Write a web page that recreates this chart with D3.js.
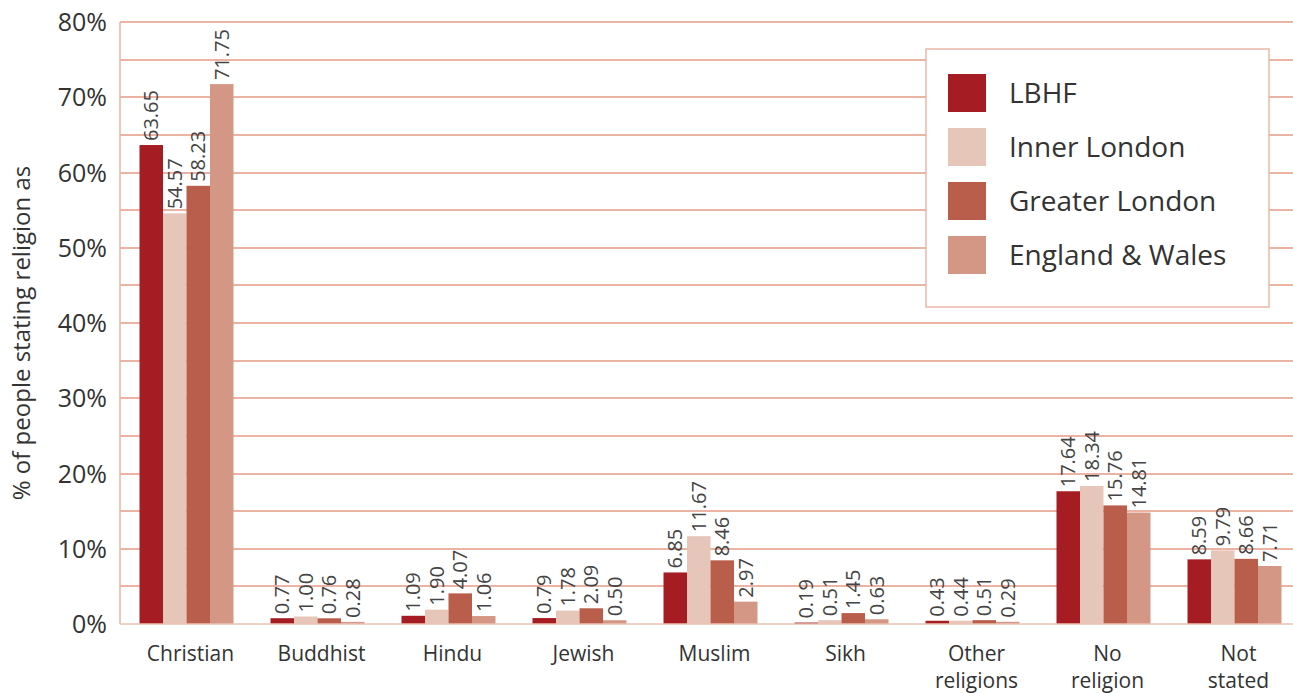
<!DOCTYPE html>
<html>
<head>
<meta charset="utf-8">
<style>
  body { margin: 0; background: #fff; }
  text { font-family: "Open Sans", sans-serif; fill: #333; }
  .grid line { stroke: #eab3a3; stroke-width: 1.5; shape-rendering: crispEdges; }
</style>
</head>
<body>
<script src="https://cdnjs.cloudflare.com/ajax/libs/d3/7.8.5/d3.min.js"></script>
<script>
// data
var categories = ["Christian", "Buddhist", "Hindu", "Jewish", "Muslim", "Sikh", "Other religions", "No religion", "Not stated"];
var series = ["LBHF", "Inner London", "Greater London", "England & Wales"];
var lbhf          = [63.65, 0.77, 1.09, 0.79, 6.85, 0.19, 0.43, 17.64, 8.59];
var innerLondon   = [54.57, 1.00, 1.90, 1.78, 11.67, 0.51, 0.44, 18.34, 9.79];
var greaterLondon = [58.23, 0.76, 4.07, 2.09, 8.46, 1.45, 0.51, 15.76, 8.66];
var englandWales  = [71.75, 0.28, 1.06, 0.50, 2.97, 0.63, 0.29, 14.81, 7.71];
var yTicks = [0, 10, 20, 30, 40, 50, 60, 70, 80];
var colors = ["#a51c22", "#e5c6b8", "#b85e4a", "#d49785"];

var values = [lbhf, innerLondon, greaterLondon, englandWales];
var data = categories.map(function(c, i) {
  return { cat: c, vals: series.map(function(s, j) { return { s: s, v: values[j][i] }; }) };
});

var W = 1293, H = 693;
var plotLeft = 121, plotTop = 22, plotBottom = 624;

var svg = d3.select("body").append("svg")
  .attr("width", W).attr("height", H);

var x0 = d3.scaleBand().domain(categories).range([plotLeft, plotLeft + 131 * 9]);
var groupW = 94;
var x1 = d3.scaleBand().domain(series).range([0, groupW]);
var y = d3.scaleLinear().domain([0, 80]).range([plotBottom, plotTop]);

// gridlines every 5%
svg.append("g").attr("class", "grid")
  .selectAll("line").data(d3.range(5, 81, 5))
  .enter().append("line")
  .attr("x1", 120).attr("x2", W)
  .attr("y1", function(d) { return Math.round(y(d)); })
  .attr("y2", function(d) { return Math.round(y(d)); });

// y axis line
svg.append("line")
  .attr("x1", 120).attr("x2", 120).attr("y1", plotTop).attr("y2", plotBottom)
  .attr("stroke", "#eab3a3").attr("stroke-width", 1.5);

// y tick labels
svg.append("g").selectAll("text").data(yTicks)
  .enter().append("text")
  .attr("x", 107).attr("y", function(d) { return y(d); })
  .attr("dy", "0.36em")
  .attr("text-anchor", "end")
  .attr("font-size", "25px")
  .text(function(d) { return d + "%"; });

// y title
svg.append("text")
  .attr("transform", "translate(30," + 333 + ") rotate(-90)")
  .attr("text-anchor", "middle")
  .attr("font-size", "24px")
  .text("% of people stating religion as");

// bars
var groups = svg.append("g").selectAll("g").data(data)
  .enter().append("g")
  .attr("transform", function(d) { return "translate(" + (x0(d.cat) + (x0.bandwidth() - groupW) / 2) + ",0)"; });

groups.selectAll("rect").data(function(d) { return d.vals; })
  .enter().append("rect")
  .attr("x", function(d) { return x1(d.s); })
  .attr("width", x1.bandwidth())
  .attr("y", function(d) { return y(d.v); })
  .attr("height", function(d) { return plotBottom - y(d.v); })
  .attr("fill", function(d, i) { return colors[i]; });

// x baseline over the bars
svg.append("line")
  .attr("x1", 120).attr("x2", W).attr("y1", plotBottom).attr("y2", plotBottom)
  .attr("stroke", "#edc2b5").attr("stroke-width", 1.5);

groups.selectAll("text.val").data(function(d) { return d.vals; })
  .enter().append("text")
  .attr("class", "val")
  .attr("transform", function(d) {
    return "translate(" + (x1(d.s) + x1.bandwidth() / 2) + "," + (y(d.v) - 4) + ") rotate(-90)";
  })
  .attr("dy", "0.35em")
  .attr("font-size", "20px")
  .style("fill", "#444")
  .text(function(d) { return d.v.toFixed(2); });

// category labels
svg.append("g").selectAll("text").data(categories)
  .enter().append("text")
  .attr("x", function(d) { return x0(d) + x0.bandwidth() / 2 + 4; })
  .attr("y", 661)
  .attr("text-anchor", "middle")
  .attr("font-size", "21px")
  .each(function(d) {
    var words = d.split(" ");
    var t = d3.select(this);
    words.forEach(function(w, i) {
      t.append("tspan").attr("x", t.attr("x")).attr("dy", i === 0 ? 0 : 27).text(w);
    });
  });

// legend
var lg = svg.append("g");
lg.append("rect")
  .attr("x", 926).attr("y", 49).attr("width", 343).attr("height", 258)
  .attr("fill", "#fff").attr("stroke", "#eab8a8").attr("stroke-width", 1.5);
series.forEach(function(s, i) {
  lg.append("rect")
    .attr("x", 948).attr("y", 74 + i * 54).attr("width", 38).attr("height", 38)
    .attr("fill", colors[i]);
  lg.append("text")
    .attr("x", 1009).attr("y", 93 + i * 54).attr("dy", "0.36em")
    .attr("font-size", "28px")
    .text(s);
});
</script>
</body>
</html>
